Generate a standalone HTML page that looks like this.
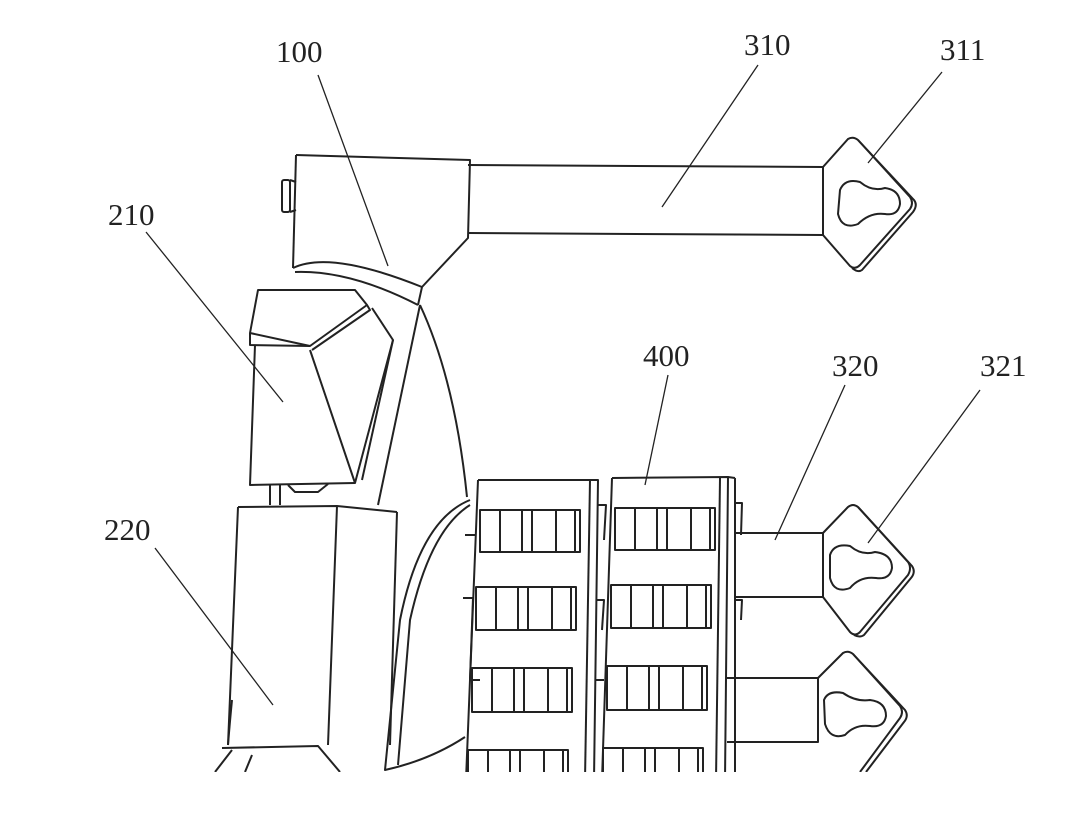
<!DOCTYPE html>
<html><head><style>
html,body{margin:0;padding:0;background:#fff;width:1089px;height:833px;overflow:hidden}
svg{display:block}
text{font-family:"Liberation Serif",serif;font-size:31px;fill:#222}
</style></head><body>
<svg width="1089" height="833" viewBox="0 0 1089 833" fill="none" stroke="#222" stroke-width="2" stroke-linejoin="round">
<defs><clipPath id="c"><rect x="0" y="0" width="1089" height="772"/></clipPath></defs>
<g clip-path="url(#c)">
<!-- top housing 100 -->
<path d="M296 155 L470 160 L468 238 L422 287 L418 305"/>
<path d="M296 155 L293 268"/>
<path d="M293 268 Q330 250 422 287"/>
<path d="M295 272 Q350 270 418 305"/>
<rect x="282" y="180" width="8" height="32" rx="2"/>
<path d="M290 180 L296 182 M290 212 L296 210"/>
<!-- top bar 310 -->
<path d="M468 165 L823 167 M468 233 L823 235"/>
<path d="M823 167 L823 235"/>
<!-- diamond 311 -->
<path d="M823 167 L848 139 Q853 136 858 140 L910 197 Q914 203 910 209 L860 265 Q855 270 850 266 L823 235"/>
<path d="M858 140 L914 200 Q918 205 913 212 L862 270 Q858 273 852 268"/>
<path d="M840 190 Q845 178 860 182 Q872 192 885 188 Q900 190 900 204 Q898 216 885 214 Q870 212 858 224 Q842 230 838 214 Z"/>
<!-- 210 cradle -->
<path d="M258 290 L355 290 L367 305 L310 346 L250 333 Z"/>
<path d="M250 333 L250 345 L310 346"/>
<path d="M367 305 L370 310 L312 350"/>
<path d="M255 345 L250 485 L355 483"/>
<path d="M310 350 L355 483 L393 340 L372 308"/>
<path d="M362 480 L393 340"/>
<path d="M420 305 L378 505"/>
<path d="M420 305 Q455 380 467 497"/>
<path d="M270 485 L270 505 M280 485 L280 505"/>
<path d="M288 485 L295 492 L318 492 L328 484"/>
<!-- 220 box -->
<path d="M238 507 L337 506 L397 512"/>
<path d="M238 507 L228 745 M337 506 L328 745"/>
<path d="M397 512 L390 745"/>
<path d="M228 745 Q230 720 232 700"/>
<path d="M222 748 L318 746 L340 772 M232 750 L215 772 M252 755 L245 772"/>
<path d="M470 500 Q420 520 400 620 L385 770 Q430 760 465 737"/>
<path d="M470 505 Q430 530 410 620 L398 765"/>
<!-- blocks 400 -->
<g>
<path d="M478 480 L598 480 L594 780 M478 480 L466 780"/>
<path d="M590 480 L585 780"/>
<path d="M612 478 L728 477 L725 780 M612 478 L602 780"/>
<path d="M720 478 L716 780"/>
<path d="M735 478 L735 780 M728 477 L735 478"/>
</g>
<g id="slats">
<rect x="480" y="510" width="100" height="42"/>
<path d="M500 510 V552 M522 510 V552 M532 510 V552 M556 510 V552 M575 510 V552"/>
<rect x="476" y="587" width="100" height="43"/>
<path d="M496 587 V630 M518 587 V630 M528 587 V630 M552 587 V630 M571 587 V630"/>
<rect x="472" y="668" width="100" height="44"/>
<path d="M492 668 V712 M514 668 V712 M524 668 V712 M548 668 V712 M567 668 V712"/>
<rect x="468" y="750" width="100" height="40"/>
<path d="M488 750 V790 M510 750 V790 M520 750 V790 M544 750 V790 M563 750 V790"/>
</g>
<use href="#slats" x="135" y="-2"/>
<path d="M598 505 L606 505 L604 540 M596 600 L604 600 L602 630 M596 680 L604 680"/>
<path d="M735 503 L742 503 L741 535 M735 600 L742 600 L741 620 M465 535 L475 535 M463 598 L473 598 L470 680 L480 680"/>
<!-- lower bars 320 -->
<path d="M735 533 L823 533 L823 597 L735 597"/>
<path d="M823 533 L848 507 Q853 503 858 507 L908 562 Q912 568 908 575 L860 632 Q855 637 850 632 L823 597"/>
<path d="M858 507 L912 566 Q916 572 911 578 L864 635 Q860 638 854 635"/>
<path d="M830 555 Q834 543 850 546 Q862 556 875 552 Q892 554 892 568 Q890 580 876 578 Q860 576 850 588 Q834 594 830 578 Z"/>
<path d="M727 678 L818 678 L818 742 L727 742"/>
<path d="M818 678 L843 653 Q848 650 853 654 L900 706 Q904 712 900 718 L860 772"/>
<path d="M853 654 L905 710 Q909 716 904 722 L866 772"/>
<path d="M824 700 Q828 690 843 693 Q856 702 870 700 Q886 702 886 716 Q884 728 870 726 Q855 724 845 735 Q830 740 825 724 Z"/>
</g>
<!-- leaders -->
<g stroke-width="1.3">
<path d="M318 75 L388 266"/>
<path d="M758 65 L662 207"/>
<path d="M942 72 L868 163"/>
<path d="M146 232 L283 402"/>
<path d="M155 548 L273 705"/>
<path d="M668 375 L645 485"/>
<path d="M845 385 L775 540"/>
<path d="M980 390 L868 543"/>
</g>
<g stroke="none">
<text x="276" y="62">100</text>
<text x="744" y="55">310</text>
<text x="940" y="60">311</text>
<text x="108" y="225">210</text>
<text x="104" y="540">220</text>
<text x="643" y="366">400</text>
<text x="832" y="376">320</text>
<text x="980" y="376">321</text>
</g>
</svg>
</body></html>
